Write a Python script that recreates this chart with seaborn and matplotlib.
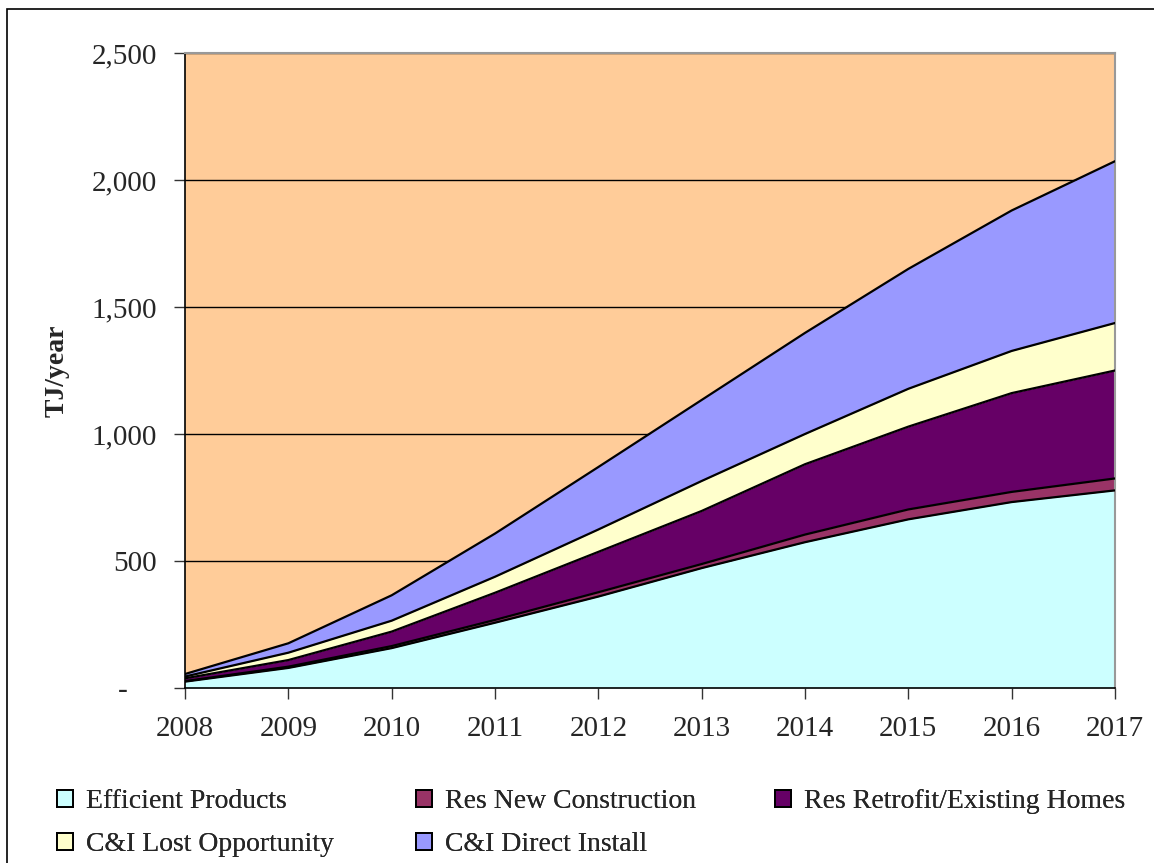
import numpy as np
import pandas as pd
import seaborn as sns
import matplotlib
matplotlib.use("Agg")
import matplotlib.pyplot as plt
from matplotlib.patches import Patch, Rectangle
from matplotlib.ticker import FuncFormatter

years = [2008, 2009, 2010, 2011, 2012, 2013, 2014, 2015, 2016, 2017]
efficient_products = [25, 79, 157, 257, 360, 472, 574, 664, 732, 778]
res_new_construction = [2, 5, 8, 11, 17, 16, 30, 39, 40, 47]
res_retrofit = [11, 26, 57, 107, 159, 209, 277, 326, 389, 425]
ci_lost_opportunity = [7, 29, 43, 63, 88, 118, 119, 149, 166, 187]
ci_direct_install = [10, 37, 100, 170, 246, 319, 398, 472, 553, 637]

series_names = ["Efficient Products", "Res New Construction",
                "Res Retrofit/Existing Homes", "C&I Lost Opportunity",
                "C&I Direct Install"]
series_values = [efficient_products, res_new_construction, res_retrofit,
                 ci_lost_opportunity, ci_direct_install]
colors = ["#CCFFFF", "#993366", "#660066", "#FFFFCC", "#9999FF"]

sns.set_theme(style="white")
plt.rcParams["font.family"] = ["Liberation Serif", "DejaVu Serif"]

df = pd.DataFrame({"year": years})
for name, vals in zip(series_names, series_values):
    df[name] = vals
cum = df[series_names].cumsum(axis=1)

W, H = 1154, 863
fig = plt.figure(figsize=(W / 100, H / 100), dpi=100)
ax = fig.add_axes([185 / W, 1 - 688 / H, 930 / W, 635 / H])
ax.set_facecolor("#FFCC99")

# outer chart frame
fig.patches.append(Rectangle((7 / W, -0.01), 1.1, 1 - 9 / H + 0.01,
                             transform=fig.transFigure, fill=False,
                             edgecolor="black", linewidth=1.2, zorder=0))

lower = np.zeros(len(years))
for name, color in zip(series_names, colors):
    upper = cum[name].to_numpy()
    ax.fill_between(df["year"], lower, upper, color=color, linewidth=0, zorder=2)
    sns.lineplot(x=df["year"], y=upper, color="black", linewidth=1.6, ax=ax,
                 zorder=3, legend=False)
    lower = upper

ax.set_xlim(2008, 2017)
ax.set_ylim(0, 2500)
ax.set_xticks(years)
ax.set_yticks(np.arange(0, 2501, 500))
ax.yaxis.set_major_formatter(
    FuncFormatter(lambda v, p: "-    " if v == 0 else f"{int(v):,}"))
ax.grid(axis="y", color="black", linewidth=1.0, zorder=1)
ax.set_axisbelow(True)
ax.tick_params(axis="both", which="major", length=8, width=1.0, color="#333333",
               direction="out", labelsize=21, left=True, bottom=True)
ax.tick_params(axis="y", pad=12)
ax.tick_params(axis="x", pad=12)
for s in ["top", "right"]:
    ax.spines[s].set_color("#999999")
    ax.spines[s].set_linewidth(1.5)
for s in ["left", "bottom"]:
    ax.spines[s].set_color("black")
    ax.spines[s].set_linewidth(1.2)
ax.set_xlabel("")
ax.set_ylabel("TJ/year", fontsize=20, fontweight="bold", labelpad=16)

# legend laid out in three fixed columns, filled row by row
handles = [Patch(facecolor=c, edgecolor="black", linewidth=1.4, label=n)
           for n, c in zip(series_names, colors)]
columns = [([0, 3], 57), ([1, 4], 416), ([2], 775)]
for idx, xpos in columns:
    leg = fig.legend(handles=[handles[i] for i in idx], loc="upper left",
                     bbox_to_anchor=(xpos / W, 1 - 789 / H),
                     frameon=False, fontsize=20, handlelength=0.58,
                     handleheight=0.58, handletextpad=0.45, labelspacing=0.65,
                     borderpad=0, borderaxespad=0)
    fig.add_artist(leg)

fig.savefig("out.png", dpi=100)
